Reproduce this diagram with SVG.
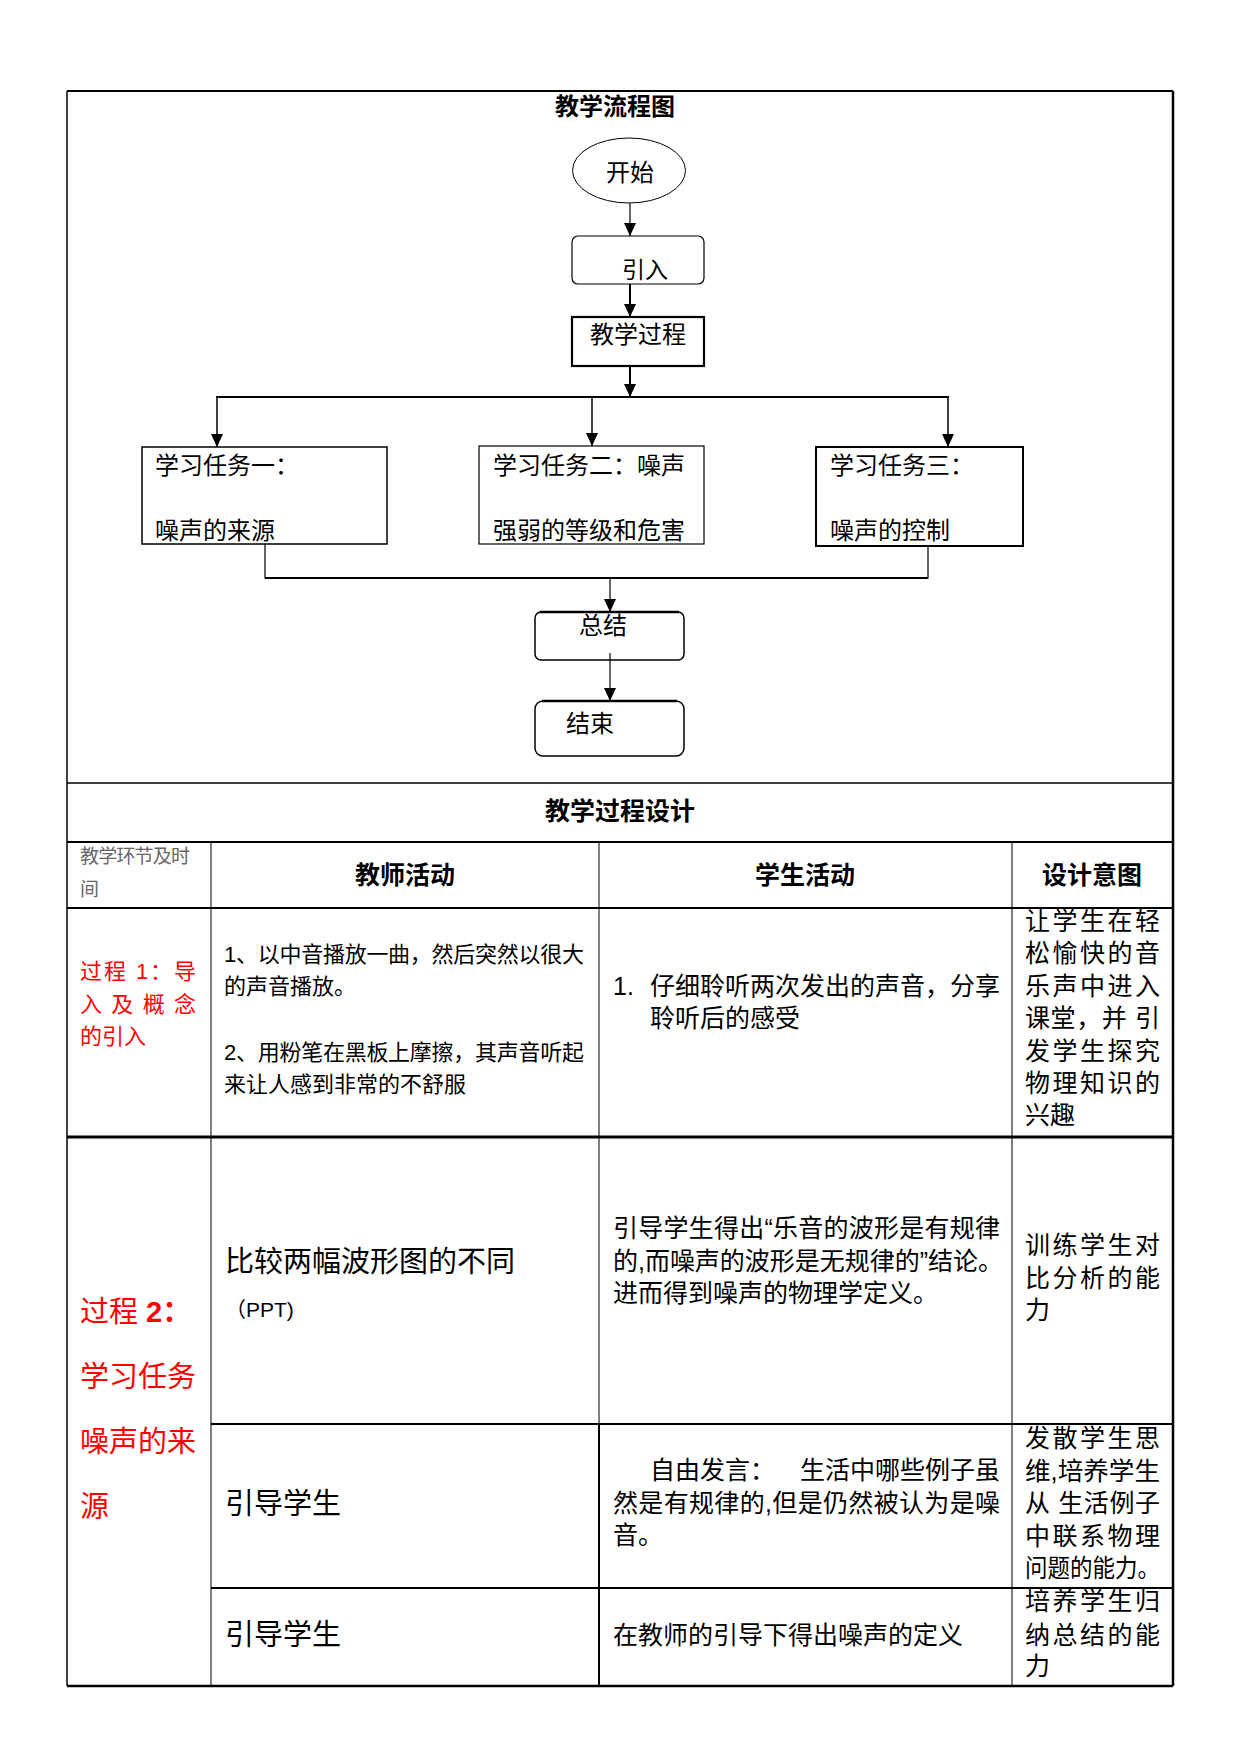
<svg xmlns="http://www.w3.org/2000/svg" width="1241" height="1755" viewBox="0 0 1241 1755">
<style>
text{font-family:'Liberation Sans','Noto Sans CJK SC',sans-serif;fill:#000}
.fc{font-size:24px}
.b{font-weight:bold}
.t22{font-size:22px}
.t25{font-size:25px}
.t29{font-size:29px}
.red{fill:#ff0000}
.grey{fill:#666;font-size:19px}
.ln{stroke:#000;fill:none}
.box{fill:#fff;stroke:#000}
</style>
<defs>
<marker id="ad" markerUnits="userSpaceOnUse" markerWidth="13" markerHeight="12" refX="13" refY="6" orient="auto" viewBox="0 0 13 12">
<path d="M0,0 L13,6 L0,12 Z" fill="#000"/>
</marker>
</defs>
<rect width="1241" height="1755" fill="#fff"/>

<g id="table">
<line class="ln" x1="67" y1="91" x2="1173" y2="91" stroke-width="2"/>
<line class="ln" x1="67" y1="91" x2="67" y2="1686" stroke-width="1.5"/>
<line class="ln" x1="1173" y1="91" x2="1173" y2="1686" stroke-width="2.5"/>
<line class="ln" x1="67" y1="783" x2="1173" y2="783" stroke-width="1.5"/>
<line class="ln" x1="67" y1="842" x2="1173" y2="842" stroke-width="2"/>
<line class="ln" x1="67" y1="908" x2="1173" y2="908" stroke-width="2"/>
<line class="ln" x1="67" y1="1137" x2="1173" y2="1137" stroke-width="3"/>
<line class="ln" x1="211" y1="1424" x2="1173" y2="1424" stroke-width="2"/>
<line class="ln" x1="211" y1="1588" x2="1173" y2="1588" stroke-width="2"/>
<line class="ln" x1="67" y1="1686" x2="1173" y2="1686" stroke-width="2.5"/>
<line class="ln" x1="211" y1="842" x2="211" y2="1686" stroke-width="1"/>
<line class="ln" x1="599" y1="842" x2="599" y2="1424" stroke-width="1"/>
<line class="ln" x1="599" y1="1424" x2="599" y2="1686" stroke-width="2"/>
<line class="ln" x1="1012" y1="842" x2="1012" y2="1686" stroke-width="1"/>
</g>

<text class="fc b" x="615" y="115" text-anchor="middle">教学流程图</text>

<g id="connectors">
<line class="ln" x1="630" y1="203" x2="630" y2="236" stroke-width="1.2" marker-end="url(#ad)"/>
<line class="ln" x1="630" y1="284" x2="630" y2="317" stroke-width="2" marker-end="url(#ad)"/>
<line class="ln" x1="630" y1="366" x2="630" y2="397" stroke-width="2" marker-end="url(#ad)"/>
<line class="ln" x1="216" y1="397" x2="949" y2="397" stroke-width="2"/>
<line class="ln" x1="217" y1="397" x2="217" y2="447" stroke-width="1.5" marker-end="url(#ad)"/>
<line class="ln" x1="592" y1="397" x2="592" y2="446" stroke-width="1.5" marker-end="url(#ad)"/>
<line class="ln" x1="948" y1="397" x2="948" y2="447" stroke-width="1.5" marker-end="url(#ad)"/>
<polyline class="ln" points="265,544 265,578 928,578 928,546" stroke-width="1.2"/>
<line class="ln" x1="265" y1="578" x2="928" y2="578" stroke-width="2"/>
<line class="ln" x1="610" y1="578" x2="610" y2="612" stroke-width="1.2" marker-end="url(#ad)"/>
<line class="ln" x1="610" y1="653" x2="610" y2="701" stroke-width="1.2" marker-end="url(#ad)"/>
</g>

<g id="n-start">
<ellipse class="box" cx="629" cy="170.5" rx="56.5" ry="32.5" stroke-width="1"/>
<text class="fc" x="606" y="181">开始</text>
</g>
<g id="n-intro">
<rect class="box" x="572" y="236" width="132" height="48" rx="6" stroke-width="1.2"/>
<text class="fc" x="622" y="278" style="font-size:23px">引入</text>
</g>
<g id="n-process">
<rect class="box" x="572" y="317" width="132" height="49" stroke-width="2.2"/>
<text class="fc" x="590" y="343">教学过程</text>
</g>
<g id="n-task1">
<rect class="box" x="142" y="447" width="245" height="97" stroke-width="1.5"/>
<text class="fc" x="155" y="474">学习任务一：</text>
<text class="fc" x="155" y="539">噪声的来源</text>
</g>
<g id="n-task2">
<rect class="box" x="479" y="446" width="225" height="98" stroke-width="1.2"/>
<text class="fc" x="493" y="474">学习任务二：噪声</text>
<text class="fc" x="493" y="539">强弱的等级和危害</text>
</g>
<g id="n-task3">
<rect class="box" x="816" y="447" width="207" height="99" stroke-width="2"/>
<text class="fc" x="830" y="474">学习任务三：</text>
<text class="fc" x="830" y="539">噪声的控制</text>
</g>
<g id="n-summary">
<rect class="box" x="535" y="612" width="149" height="48" rx="6" stroke-width="1.5"/>
<line class="ln" x1="540" y1="612" x2="679" y2="612" stroke-width="2.5"/>
<text class="fc" x="579" y="634">总结</text>
<line class="ln" x1="610" y1="653" x2="610" y2="660" stroke-width="1.2"/>
</g>
<g id="n-end">
<rect class="box" x="535" y="701" width="149" height="55" rx="8" stroke-width="1.5"/>
<line class="ln" x1="542" y1="701" x2="677" y2="701" stroke-width="2.5"/>
<text class="fc" x="566" y="732">结束</text>
</g>

<g id="table-text">
<text class="t25 b" x="620" y="820" text-anchor="middle">教学过程设计</text>
<text class="grey" x="80" y="863" textLength="110" lengthAdjust="spacing">教学环节及时</text>
<text class="grey" x="80" y="896">间</text>
<text class="t25 b" x="405" y="884" text-anchor="middle">教师活动</text>
<text class="t25 b" x="805" y="884" text-anchor="middle">学生活动</text>
<text class="t25 b" x="1092" y="884" text-anchor="middle">设计意图</text>

<text class="t22 red" x="80" y="979" textLength="116" lengthAdjust="spacing">过程 1：导</text>
<text class="t22 red" x="80" y="1012" textLength="116" lengthAdjust="spacing">入 及 概 念</text>
<text class="t22 red" x="80" y="1044">的引入</text>

<text class="t22" x="224" y="962" textLength="360" lengthAdjust="spacing">1、以中音播放一曲，然后突然以很大</text>
<text class="t22" x="224" y="994">的声音播放。</text>
<text class="t22" x="224" y="1060" textLength="360" lengthAdjust="spacing">2、用粉笔在黑板上摩擦，其声音听起</text>
<text class="t22" x="224" y="1092">来让人感到非常的不舒服</text>

<text class="t25" x="613" y="995">1.</text>
<text class="t25" x="650" y="995" textLength="350" lengthAdjust="spacing">仔细聆听两次发出的声音，分享</text>
<text class="t25" x="650" y="1027">聆听后的感受</text>

<text class="t25" x="1025" y="930" textLength="135" lengthAdjust="spacing">让学生在轻</text>
<text class="t25" x="1025" y="962" textLength="135" lengthAdjust="spacing">松愉快的音</text>
<text class="t25" x="1025" y="995" textLength="135" lengthAdjust="spacing">乐声中进入</text>
<text class="t25" x="1025" y="1027" textLength="135" lengthAdjust="spacing">课堂，并 引</text>
<text class="t25" x="1025" y="1060" textLength="135" lengthAdjust="spacing">发学生探究</text>
<text class="t25" x="1025" y="1092" textLength="135" lengthAdjust="spacing">物理知识的</text>
<text class="t25" x="1025" y="1124">兴趣</text>

<text class="t29 red" x="80" y="1322">过程 <tspan class="b">2：</tspan></text>
<text class="t29 red" x="80" y="1387">学习任务</text>
<text class="t29 red" x="80" y="1452">噪声的来</text>
<text class="t29 red" x="80" y="1517">源</text>

<text class="t29" x="225" y="1272">比较两幅波形图的不同</text>
<text class="t22" x="225" y="1317" style="font-size:21px">（PPT)</text>

<text class="t25" x="613" y="1237" textLength="387" lengthAdjust="spacing">引导学生得出“乐音的波形是有规律</text>
<text class="t25" x="613" y="1270" textLength="390" lengthAdjust="spacing">的,而噪声的波形是无规律的”结论。</text>
<text class="t25" x="613" y="1302">进而得到噪声的物理学定义。</text>

<text class="t25" x="1025" y="1254" textLength="135" lengthAdjust="spacing">训练学生对</text>
<text class="t25" x="1025" y="1287" textLength="135" lengthAdjust="spacing">比分析的能</text>
<text class="t25" x="1025" y="1319">力</text>

<text class="t29" x="225" y="1514">引导学生</text>
<text class="t25" x="650" y="1479">自由发言：</text>
<text class="t25" x="800" y="1479" textLength="200" lengthAdjust="spacing">生活中哪些例子虽</text>
<text class="t25" x="613" y="1512" textLength="387" lengthAdjust="spacing">然是有规律的,但是仍然被认为是噪</text>
<text class="t25" x="613" y="1544">音。</text>

<text class="t25" x="1025" y="1447" textLength="135" lengthAdjust="spacing">发散学生思</text>
<text class="t25" x="1025" y="1480" textLength="135" lengthAdjust="spacingAndGlyphs">维,培养学生</text>
<text class="t25" x="1025" y="1512" textLength="135" lengthAdjust="spacing">从 生活例子</text>
<text class="t25" x="1025" y="1545" textLength="135" lengthAdjust="spacing">中联系物理</text>
<text class="t25" x="1025" y="1577" textLength="135" lengthAdjust="spacingAndGlyphs">问题的能力。</text>

<text class="t29" x="225" y="1645">引导学生</text>
<text class="t25" x="613" y="1644">在教师的引导下得出噪声的定义</text>
<text class="t25" x="1025" y="1610" textLength="135" lengthAdjust="spacing">培养学生归</text>
<text class="t25" x="1025" y="1644" textLength="135" lengthAdjust="spacing">纳总结的能</text>
<text class="t25" x="1025" y="1675">力</text>
</g>
</svg>
